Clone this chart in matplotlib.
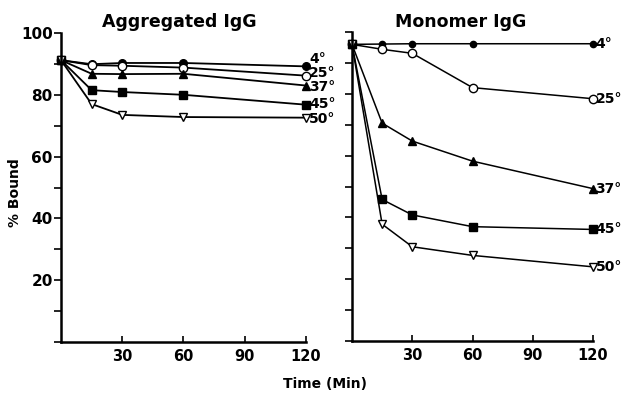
import matplotlib
matplotlib.use("Agg")
import matplotlib.pyplot as plt
from matplotlib.ticker import MultipleLocator

plt.rcParams["font.family"] = ["DejaVu Sans"]
plt.rcParams["font.weight"] = "bold"

# 시간 (분)
time_min = [0, 15, 30, 60, 120]
temps = ["4°", "25°", "37°", "45°", "50°"]

# Aggregated IgG
agg_4 = [91.2, 89.9, 90.3, 90.3, 89.2]
agg_25 = [91.2, 89.6, 89.4, 88.8, 86.2]
agg_37 = [91.2, 86.8, 86.7, 86.8, 83.0]
agg_45 = [91.2, 81.5, 80.9, 80.0, 76.8]
agg_50 = [91.2, 77.0, 73.5, 72.8, 72.6]
agg_label_y = [91.6, 87.1, 82.4, 76.9, 72.1]

# Monomer IgG
mono_4 = [96.0, 96.1, 96.2, 96.2, 96.2]
mono_25 = [96.0, 94.4, 93.1, 82.0, 78.4]
mono_37 = [96.0, 70.5, 64.7, 58.2, 49.3]
mono_45 = [96.0, 45.8, 40.8, 37.0, 36.1]
mono_50 = [96.0, 37.8, 30.5, 27.7, 24.0]

x_ticks = [30, 60, 90, 120]
y_ticks = [20, 40, 60, 80, 100]

styles = [
    dict(marker="o", mfc="black", ms=5.5),
    dict(marker="o", mfc="white", ms=6),
    dict(marker="^", mfc="black", ms=5.5),
    dict(marker="s", mfc="black", ms=5.5),
    dict(marker="v", mfc="white", ms=5.5),
]


def preset(ax, labels=True):
    ax.set_xlim(0, 120)
    ax.set_ylim(0, 100)
    for s in ["top", "right"]:
        ax.spines[s].set_visible(False)
    ax.spines["left"].set_linewidth(1.8)
    ax.spines["bottom"].set_linewidth(1.8)
    ax.set_xticks(x_ticks)
    ax.tick_params(axis="x", direction="in", length=4, width=1.2, labelsize=10.5, pad=5)
    ax.yaxis.set_major_locator(MultipleLocator(20))
    ax.yaxis.set_minor_locator(MultipleLocator(10))
    ax.set_yticks(y_ticks)
    ax.tick_params(axis="y", which="both", direction="out", length=5, width=1.2,
                   labelsize=11, pad=1)
    if not labels:
        ax.set_yticklabels([])
    for lab in ax.get_xticklabels() + ax.get_yticklabels():
        lab.set_fontweight("bold")


fig = plt.figure(figsize=(6.23, 4.0), dpi=100)
ax1 = fig.add_axes([0.098, 0.145, 0.393, 0.7725])
ax2 = fig.add_axes([0.565, 0.1475, 0.387, 0.7725])

agg = [agg_4, agg_25, agg_37, agg_45, agg_50]
mono = [mono_4, mono_25, mono_37, mono_45, mono_50]

for i, y in enumerate(agg):
    ax1.plot(time_min, y, color="black", lw=1.3, mec="black", mew=1.0,
             clip_on=False, **styles[i])
    ax1.text(121.5, agg_label_y[i], temps[i], fontsize=10, fontweight="bold",
             ha="left", va="center")

for i, y in enumerate(mono):
    st = dict(styles[i])
    if i == 0:
        st["ms"] = 4.5
    ax2.plot(time_min, y, color="black", lw=1.1, mec="black", mew=1.0,
             clip_on=False, **st)
    ax2.text(121.2, y[-1], temps[i], fontsize=10, fontweight="bold",
             ha="left", va="center")

preset(ax1)
preset(ax2, labels=False)

fig.text(179 / 623, 1 - 22 / 400, "Aggregated IgG", fontsize=12.5, fontweight="bold",
         ha="center", va="center")
fig.text(461 / 623, 1 - 22 / 400, "Monomer IgG", fontsize=12.5, fontweight="bold",
         ha="center", va="center")
fig.text(15 / 623, 1 - 193 / 400, "% Bound", fontsize=10, fontweight="bold",
         rotation=90, ha="center", va="center")
fig.text(325 / 623, 1 - 384 / 400, "Time (Min)", fontsize=10, fontweight="bold",
         ha="center", va="center")

plt.savefig("out.png", dpi=100)
